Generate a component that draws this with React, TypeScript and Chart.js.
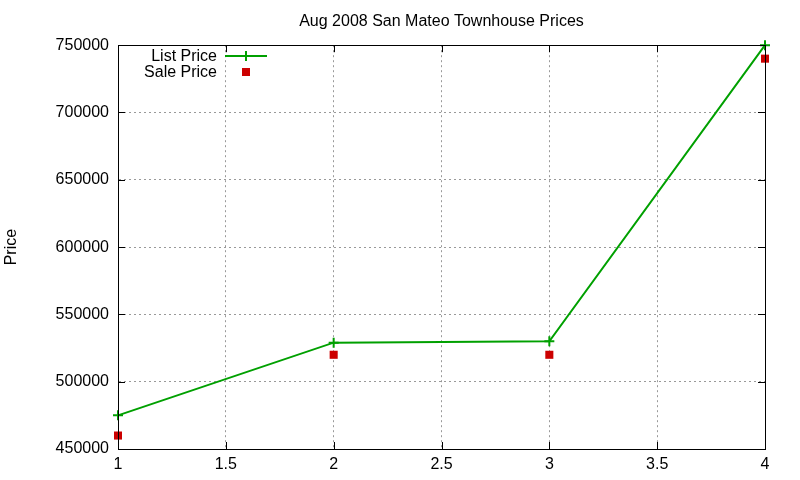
import React, { useRef, useEffect } from 'react';
import { Chart, registerables } from 'chart.js';

Chart.register(...registerables);

const positions = [1, 2, 3, 4];
const listPrices = [475000, 529000, 530000, 750000];
const salePrices = [460000, 520000, 520000, 740000];
const xTicks = [1, 1.5, 2, 2.5, 3, 3.5, 4];

const FONT = "'Liberation Sans', Arial, sans-serif";

// gnuplot-ish frame: box around the plot and ticks pointing inward
const framePlugin = {
    id: 'frame',
    afterDraw(chart: any) {
        const { ctx, chartArea: a, scales } = chart;
        ctx.save();
        ctx.strokeStyle = '#000';
        ctx.lineWidth = 1;
        ctx.beginPath();
        ctx.rect(Math.round(a.left) + 0.5, Math.round(a.top) + 0.5,
            Math.round(a.right - a.left), Math.round(a.bottom - a.top));
        scales.y.ticks.forEach((t: any) => {
            const y = Math.round(scales.y.getPixelForValue(t.value)) + 0.5;
            ctx.moveTo(a.left, y); ctx.lineTo(a.left + 7, y);
            ctx.moveTo(a.right, y); ctx.lineTo(a.right - 7, y);
        });
        scales.x.ticks.forEach((t: any) => {
            const x = Math.round(scales.x.getPixelForValue(t.value)) + 0.5;
            ctx.moveTo(x, a.bottom); ctx.lineTo(x, a.bottom - 7);
            ctx.moveTo(x, a.top); ctx.lineTo(x, a.top + 7);
        });
        ctx.stroke();
        ctx.restore();
    },
};

// key in the top left, text first then the sample
const keyPlugin = {
    id: 'key',
    afterDraw(chart: any) {
        const { ctx } = chart;
        const sets = chart.data.datasets;
        ctx.save();
        ctx.font = `16px ${FONT}`;
        ctx.textAlign = 'right';
        ctx.textBaseline = 'middle';
        sets.forEach((ds: any, i: number) => {
            const y = 56 + i * 16;
            ctx.fillStyle = '#000';
            ctx.fillText(ds.label, 217, y + 1);
            if (ds.showLine !== false) {
                ctx.strokeStyle = ds.borderColor;
                ctx.lineWidth = 2;
                ctx.beginPath();
                ctx.moveTo(225, y); ctx.lineTo(267, y);
                ctx.moveTo(246, y - 5); ctx.lineTo(246, y + 5);
                ctx.stroke();
            } else {
                ctx.fillStyle = ds.backgroundColor;
                ctx.fillRect(242, y - 4, 8, 8);
            }
        });
        ctx.restore();
    },
};

const App: React.FC = () => {
    const chartRef = useRef<HTMLCanvasElement>(null);

    useEffect(() => {
        document.body.style.margin = '0';
        const ctx = chartRef.current?.getContext('2d');
        if (!ctx) return;

        const chart = new Chart(ctx, {
            type: 'line',
            data: {
                datasets: [
                    {
                        label: 'List Price',
                        data: positions.map((x, i) => ({ x, y: listPrices[i] })),
                        borderColor: '#00a000',
                        backgroundColor: '#00a000',
                        borderWidth: 2,
                        pointStyle: 'cross',
                        pointRadius: 5,
                        pointBorderWidth: 2,
                        tension: 0,
                        clip: false,
                    },
                    {
                        label: 'Sale Price',
                        data: positions.map((x, i) => ({ x, y: salePrices[i] })),
                        borderColor: '#cc0000',
                        backgroundColor: '#cc0000',
                        showLine: false,
                        pointStyle: 'rect',
                        pointRadius: 5.7,
                        pointBorderWidth: 0,
                        clip: false,
                    },
                ],
            },
            options: {
                responsive: false,
                animation: false,
                layout: { padding: { left: 0, right: 35, top: 0, bottom: 0 } },
                plugins: {
                    legend: { display: false },
                    tooltip: { enabled: false },
                    title: {
                        display: true,
                        fullSize: false,
                        text: 'Aug 2008 San Mateo Townhouse Prices',
                        color: '#000',
                        font: { family: FONT, size: 16, weight: 'normal' },
                        padding: { top: 12, bottom: 14 },
                    },
                },
                scales: {
                    x: {
                        type: 'linear',
                        min: 1,
                        max: 4,
                        afterBuildTicks: (s: any) => { s.ticks = xTicks.map(v => ({ value: v })); },
                        ticks: {
                            color: '#000',
                            font: { family: FONT, size: 16 },
                            padding: 6,
                            maxRotation: 0,
                            autoSkip: false,
                            callback: (v: any) => String(v),
                        },
                        grid: { color: '#999999', drawTicks: false },
                        border: { color: '#000', dash: [2, 3] },
                        afterFit: (s: any) => { s.height = 31; },
                    },
                    y: {
                        min: 450000,
                        max: 750000,
                        ticks: {
                            stepSize: 50000,
                            color: '#000',
                            font: { family: FONT, size: 16 },
                            padding: 9,
                            callback: (v: any) => String(v),
                        },
                        grid: { color: '#999999', drawTicks: false },
                        border: { color: '#000', dash: [2, 3] },
                        title: {
                            display: true,
                            text: 'Price',
                            color: '#000',
                            font: { family: FONT, size: 16 },
                            padding: { top: 2, bottom: 0 },
                        },
                        afterFit: (s: any) => { s.width = 118; },
                    },
                },
            },
            plugins: [framePlugin, keyPlugin],
        } as any);

        return () => chart.destroy();
    }, []);

    return (
        <div style={{ width: 800, height: 480 }}>
            <canvas ref={chartRef} width={800} height={480} />
        </div>
    );
};

export default App;
